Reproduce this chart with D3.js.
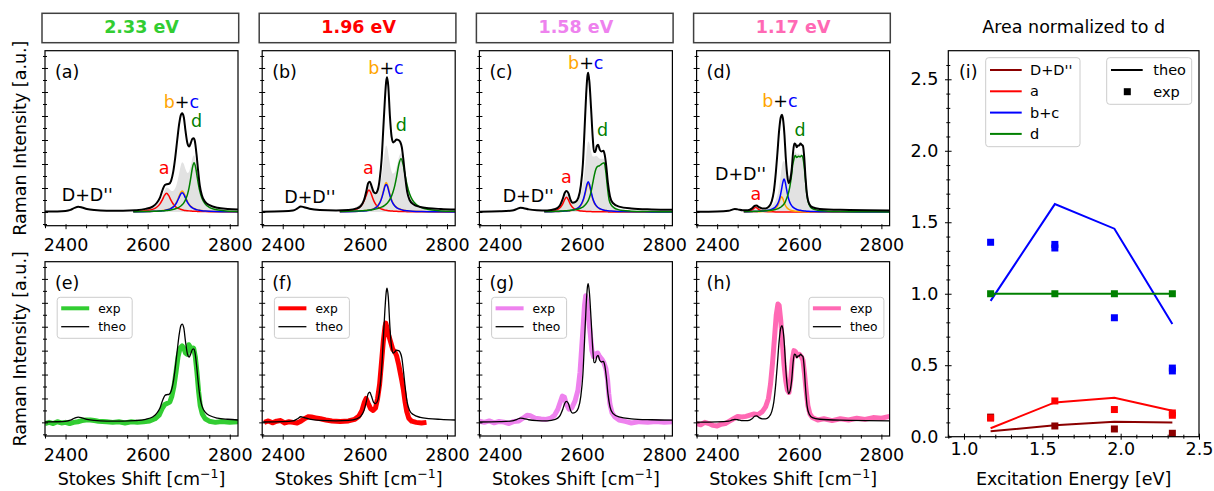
<!DOCTYPE html>
<html><head><meta charset="utf-8">
<script src="https://cdn.jsdelivr.net/npm/d3@7"></script>
<style>body{margin:0;background:#fff;} svg{display:block;}</style>
</head><body><svg id="chart" width="1214" height="491"></svg>
<script>
// ================= DATA =================
const energyLabels = ["2.33 eV", "1.96 eV", "1.58 eV", "1.17 eV"];
const topPanelTags = ["(a)", "(b)", "(c)", "(d)"];
const bottomPanelTags = ["(e)", "(f)", "(g)", "(h)"];
const shiftTicks = [2400, 2600, 2800];
const energyTicks = [1.0, 1.5, 2.0, 2.5];
const areaTicks = [0.0, 0.5, 1.0, 1.5, 2.0, 2.5];
const peakNames = ["D+D''", "a", "b+c", "d"];
const legendSpectra = ["exp", "theo"];

// ---- 2.33 eV components (x grid + a, b, c, d) ----
const grid233 = [2565,2590,2605,2615,2622,2630,2636,2641,2646,2651,2656,2661,2666,2671,2676,2680,2684,2688,2692,2697,2701,2705,2709,2713,2717,2721,2726,2732,2740,2750,2765,2785,2820];
const compA233 = [0.0045,0.009,0.016,0.026,0.040,0.068,0.103,0.138,0.156,0.138,0.103,0.073,0.051,0.037,0.028,0.0226,0.0186,0.0156,0.0132,0.011,0.0095,0.0083,0.0073,0.0065,0.0058,0.0053,0.0046,0.004,0.0034,0.0028,0.0021,0.0016,0.001];
const compB233 = [0.002,0.0033,0.0046,0.006,0.0074,0.0096,0.012,0.0147,0.0184,0.0235,0.031,0.0424,0.06,0.0875,0.127,0.16,0.175,0.16,0.127,0.0875,0.0646,0.0485,0.0373,0.0292,0.0235,0.0192,0.0153,0.012,0.0089,0.0065,0.0043,0.0028,0.0016];
const compC233 = [0.0019,0.003,0.0042,0.0055,0.0068,0.0088,0.011,0.0135,0.0169,0.0216,0.0285,0.039,0.055,0.0805,0.117,0.147,0.161,0.147,0.117,0.0805,0.0594,0.0446,0.0343,0.0269,0.0216,0.0177,0.0141,0.011,0.0082,0.006,0.004,0.0026,0.0015];
const compD233 = [0.0027,0.0039,0.005,0.0061,0.007,0.0084,0.0097,0.0111,0.0127,0.0148,0.0174,0.0207,0.0251,0.0309,0.039,0.0479,0.06,0.0768,0.101,0.147,0.205,0.284,0.369,0.41,0.369,0.284,0.189,0.117,0.0677,0.039,0.0207,0.0111,0.0051];
const total233 = [[2350,0.004],[2380,0.005],[2400,0.009],[2412,0.018],[2422,0.035],[2431,0.044],[2440,0.038],[2452,0.025],[2470,0.016],[2500,0.011],[2540,0.011],[2570,0.015],[2595,0.026],[2612,0.045],[2622,0.075],[2630,0.12],[2637,0.19],[2642,0.225],[2647,0.232],[2652,0.235],[2657,0.26],[2662,0.33],[2667,0.45],[2672,0.6],[2677,0.74],[2681,0.81],[2684,0.822],[2688,0.79],[2692,0.68],[2697,0.57],[2701,0.545],[2705,0.575],[2709,0.61],[2712,0.614],[2715,0.59],[2719,0.48],[2723,0.34],[2727,0.22],[2732,0.14],[2740,0.085],[2752,0.055],[2770,0.036],[2795,0.026],[2820,0.02]];
const exp233 = [[2350,-0.01],[2360,0.0],[2370,-0.01],[2380,0.005],[2390,-0.005],[2400,0.0],[2410,-0.01],[2420,0.0],[2430,0.005],[2440,0.015],[2450,0.02],[2460,0.02],[2470,0.015],[2480,0.01],[2490,0.008],[2500,0.005],[2515,0.0],[2530,0.005],[2545,-0.005],[2560,0.005],[2575,0.0],[2590,0.005],[2605,0.012],[2618,0.03],[2628,0.06],[2636,0.12],[2642,0.15],[2648,0.16],[2654,0.17],[2659,0.22],[2664,0.3],[2669,0.42],[2674,0.55],[2679,0.62],[2684,0.64],[2688,0.62],[2692,0.58],[2696,0.57],[2700,0.65],[2704,0.63],[2708,0.6],[2712,0.62],[2716,0.55],[2720,0.42],[2724,0.26],[2728,0.14],[2733,0.07],[2740,0.03],[2750,0.01],[2765,0.0],[2780,0.008],[2800,0.0],[2820,0.005]];

// ---- 1.96 eV ----
const grid196 = [2539,2560,2575,2585,2592,2598,2603,2607,2610,2614,2618,2623,2628,2633,2638,2642,2646,2649,2652,2655,2659,2663,2668,2673,2678,2683,2688,2693,2698,2703,2709,2716,2725,2738,2755,2780,2820];
const compA196 = [0.0051,0.0099,0.0193,0.0343,0.0563,0.0915,0.1366,0.172,0.183,0.1647,0.1267,0.0843,0.0563,0.0392,0.0284,0.0226,0.0183,0.0158,0.0138,0.0122,0.0103,0.0089,0.0075,0.0064,0.0055,0.0048,0.0042,0.0037,0.0033,0.003,0.0026,0.0023,0.002,0.0016,0.0012,0.0009,0.0006];
const compB196 = [0.0023,0.0034,0.0049,0.0064,0.008,0.0098,0.0117,0.0138,0.0157,0.019,0.0232,0.0308,0.0426,0.0616,0.0935,0.134,0.189,0.228,0.245,0.228,0.175,0.1225,0.0785,0.0528,0.0372,0.0274,0.021,0.0164,0.0132,0.0109,0.0088,0.007,0.0054,0.0039,0.0028,0.0018,0.0011];
const compC196 = [0.0022,0.0032,0.0046,0.006,0.0075,0.0092,0.011,0.013,0.0147,0.0178,0.0218,0.0289,0.04,0.0578,0.0878,0.126,0.177,0.214,0.23,0.214,0.164,0.115,0.0737,0.0496,0.0349,0.0257,0.0197,0.0154,0.0124,0.0102,0.0083,0.0066,0.0051,0.0037,0.0026,0.0017,0.001];
const compD196 = [0.0045,0.006,0.0077,0.0092,0.0106,0.012,0.0134,0.0147,0.0159,0.0175,0.0195,0.0224,0.0261,0.0308,0.0367,0.0427,0.0502,0.0572,0.0657,0.076,0.0937,0.1175,0.16,0.222,0.307,0.4,0.444,0.4,0.307,0.222,0.15,0.099,0.0627,0.0367,0.0212,0.0115,0.0057];
const total196 = [[2350,0.003],[2400,0.006],[2425,0.012],[2436,0.03],[2444,0.047],[2452,0.04],[2465,0.028],[2490,0.017],[2530,0.013],[2560,0.017],[2580,0.03],[2590,0.05],[2598,0.1],[2604,0.18],[2608,0.24],[2612,0.253],[2616,0.22],[2621,0.17],[2626,0.156],[2631,0.18],[2636,0.27],[2641,0.45],[2645,0.7],[2649,0.95],[2652,1.09],[2654,1.122],[2657,1.05],[2661,0.8],[2665,0.63],[2669,0.58],[2673,0.59],[2677,0.605],[2682,0.6],[2686,0.585],[2690,0.54],[2694,0.43],[2698,0.3],[2703,0.17],[2709,0.1],[2718,0.065],[2735,0.042],[2755,0.032],[2785,0.025],[2820,0.02]];
const exp196 = [[2355,0.0],[2365,0.012],[2375,-0.004],[2385,0.01],[2395,0.015],[2405,-0.005],[2415,0.005],[2425,0.0],[2435,-0.006],[2445,0.012],[2455,0.035],[2463,0.048],[2470,0.045],[2480,0.038],[2492,0.03],[2505,0.02],[2520,0.012],[2540,0.008],[2560,0.012],[2575,0.025],[2585,0.05],[2593,0.1],[2599,0.17],[2603,0.2],[2608,0.16],[2614,0.115],[2620,0.1],[2626,0.12],[2631,0.2],[2636,0.32],[2641,0.52],[2645,0.68],[2649,0.8],[2651,0.83],[2654,0.79],[2658,0.73],[2663,0.67],[2668,0.61],[2673,0.59],[2677,0.56],[2682,0.49],[2686,0.42],[2690,0.35],[2694,0.27],[2698,0.17],[2702,0.09],[2707,0.035],[2714,0.01],[2725,0.0],[2738,-0.006],[2750,0.0]];

// ---- 1.58 eV ----
const grid158 = [2508,2525,2535,2542,2548,2553,2558,2562,2566,2571,2576,2582,2588,2594,2599,2604,2608,2612,2615,2618,2622,2626,2630,2634,2638,2642,2646,2650,2654,2658,2662,2666,2671,2678,2688,2700,2720,2750,2790,2820];
const compA158 = [0.004,0.0083,0.0147,0.0244,0.0412,0.0674,0.105,0.122,0.105,0.0674,0.0412,0.0244,0.0157,0.0109,0.0083,0.0065,0.0055,0.0047,0.0042,0.0038,0.0033,0.0029,0.0025,0.0023,0.002,0.0018,0.0017,0.0015,0.0014,0.0013,0.0012,0.0011,0.001,0.0009,0.0008,0.0006,0.0005,0.0003,0.0002,0.0002];
const compB158 = [0.002,0.0029,0.0036,0.0044,0.0051,0.0059,0.0071,0.0081,0.0094,0.0115,0.0145,0.0198,0.0283,0.0435,0.066,0.106,0.158,0.216,0.235,0.216,0.158,0.106,0.0723,0.051,0.0373,0.0283,0.0221,0.0177,0.0145,0.0121,0.0102,0.0087,0.0072,0.0058,0.0044,0.0033,0.0021,0.0013,0.0007,0.0006];
const compC158 = [0.0022,0.0031,0.0039,0.0047,0.0055,0.0064,0.0076,0.0087,0.0101,0.0124,0.0156,0.0213,0.0305,0.0468,0.0711,0.1145,0.17,0.232,0.253,0.232,0.17,0.1145,0.0778,0.0549,0.0402,0.0305,0.0238,0.0191,0.0156,0.013,0.011,0.0094,0.0078,0.0062,0.0047,0.0035,0.0023,0.0014,0.0008,0.0006];
const compD158 = [0.004,0.005,0.006,0.007,0.008,0.009,0.010,0.011,0.012,0.014,0.016,0.019,0.023,0.029,0.036,0.047,0.06,0.078,0.095,0.12,0.17,0.24,0.31,0.36,0.38,0.385,0.395,0.405,0.41,0.33,0.2,0.1,0.06,0.035,0.02,0.012,0.007,0.004,0.003,0.002];
const total158 = [[2350,0.003],[2400,0.006],[2430,0.012],[2442,0.026],[2450,0.036],[2458,0.032],[2470,0.022],[2490,0.015],[2515,0.013],[2535,0.025],[2545,0.05],[2553,0.11],[2558,0.16],[2562,0.175],[2567,0.155],[2572,0.1],[2577,0.078],[2584,0.085],[2591,0.12],[2597,0.22],[2602,0.4],[2606,0.68],[2610,0.98],[2613,1.13],[2615,1.16],[2618,1.08],[2622,0.86],[2626,0.62],[2629,0.5],[2632,0.5],[2636,0.55],[2639,0.56],[2643,0.52],[2647,0.505],[2652,0.51],[2655,0.48],[2659,0.38],[2663,0.24],[2668,0.13],[2675,0.075],[2690,0.045],[2720,0.03],[2770,0.022],[2820,0.018]];
const exp158 = [[2350,0.01],[2362,0.0],[2374,0.012],[2386,-0.004],[2398,0.008],[2410,0.002],[2422,-0.01],[2434,0.008],[2446,0.012],[2456,0.035],[2466,0.06],[2474,0.055],[2486,0.035],[2500,0.028],[2512,0.025],[2524,0.035],[2533,0.06],[2541,0.11],[2547,0.17],[2552,0.22],[2557,0.21],[2562,0.15],[2568,0.11],[2575,0.12],[2583,0.18],[2590,0.27],[2595,0.42],[2599,0.62],[2603,0.82],[2606,0.98],[2609,1.06],[2612,1.0],[2616,0.86],[2620,0.74],[2624,0.6],[2628,0.55],[2633,0.57],[2638,0.58],[2643,0.55],[2648,0.53],[2653,0.5],[2658,0.45],[2662,0.36],[2665,0.24],[2668,0.15],[2673,0.08],[2680,0.045],[2690,0.02],[2705,0.008],[2720,-0.005],[2740,0.006],[2760,0.0],[2780,0.008],[2800,0.0],[2820,0.006]];

// ---- 1.17 eV ----
const grid117 = [2465,2478,2486,2490,2494,2498,2503,2512,2525,2535,2542,2547,2551,2554,2557,2560,2563,2566,2569,2573,2577,2581,2584,2587,2590,2594,2598,2602,2606,2609,2612,2615,2618,2622,2628,2636,2650,2670,2700,2750,2820];
const compA117 = [0.0028,0.0078,0.0195,0.031,0.039,0.031,0.0172,0.0064,0.0024,0.0014,0.0011,0.0009,0.0008,0.0007,0.0007,0.0006,0.0006,0.0006,0.0005,0.0005,0.0005,0.0004,0.0004,0.0004,0.0004,0.0003,0.0003,0.0003,0.0003,0.0003,0.0003,0.0003,0.0002,0.0002,0.0002,0.0002,0.0002,0.0001,0.0001,0.0001,0.0001];
const compB117 = [0.001,0.0013,0.0016,0.0018,0.002,0.0023,0.0027,0.0039,0.0075,0.015,0.0283,0.05,0.0819,0.112,0.128,0.112,0.0819,0.0564,0.0394,0.0256,0.0177,0.0128,0.0103,0.0085,0.0071,0.0057,0.0047,0.0039,0.0033,0.003,0.0027,0.0024,0.0022,0.0019,0.0016,0.0013,0.0009,0.0006,0.0004,0.0002,0.0001];
const compC117 = [0.0023,0.003,0.0037,0.0041,0.0046,0.0052,0.0061,0.0083,0.0146,0.0257,0.0427,0.0661,0.0989,0.1375,0.19,0.2475,0.275,0.2475,0.19,0.123,0.0804,0.055,0.0427,0.034,0.0275,0.0214,0.0171,0.0139,0.0116,0.0101,0.009,0.008,0.0072,0.0063,0.0052,0.0041,0.0029,0.0019,0.0012,0.0006,0.0003];
const compD117 = [0.004,0.005,0.005,0.006,0.006,0.007,0.007,0.009,0.012,0.016,0.021,0.026,0.032,0.038,0.046,0.056,0.068,0.085,0.11,0.15,0.21,0.3,0.39,0.44,0.47,0.455,0.465,0.46,0.47,0.45,0.38,0.27,0.16,0.08,0.038,0.022,0.012,0.007,0.004,0.002,0.001];
const total117 = [[2350,0.002],[2400,0.004],[2428,0.01],[2437,0.02],[2443,0.025],[2450,0.022],[2462,0.014],[2475,0.015],[2485,0.03],[2492,0.053],[2496,0.054],[2502,0.04],[2510,0.03],[2518,0.03],[2526,0.045],[2533,0.09],[2538,0.17],[2543,0.33],[2547,0.5],[2551,0.68],[2555,0.79],[2558,0.81],[2561,0.76],[2564,0.64],[2567,0.46],[2570,0.33],[2574,0.24],[2578,0.27],[2582,0.37],[2585,0.5],[2588,0.57],[2591,0.565],[2594,0.54],[2597,0.555],[2600,0.555],[2603,0.57],[2606,0.56],[2609,0.55],[2612,0.46],[2615,0.3],[2619,0.14],[2624,0.07],[2632,0.04],[2650,0.026],[2700,0.018],[2820,0.013]];
const exp117 = [[2350,-0.01],[2360,-0.02],[2370,0.0],[2380,-0.01],[2390,-0.025],[2400,-0.03],[2410,-0.015],[2420,-0.01],[2430,0.01],[2440,0.03],[2450,0.05],[2460,0.045],[2470,0.05],[2480,0.06],[2490,0.07],[2500,0.065],[2510,0.09],[2518,0.13],[2525,0.2],[2530,0.32],[2535,0.5],[2540,0.72],[2544,0.9],[2548,0.99],[2551,0.98],[2555,0.85],[2559,0.66],[2563,0.48],[2567,0.35],[2571,0.27],[2575,0.25],[2579,0.35],[2583,0.52],[2587,0.6],[2591,0.59],[2595,0.56],[2600,0.57],[2605,0.55],[2609,0.52],[2613,0.4],[2617,0.26],[2621,0.14],[2626,0.07],[2632,0.04],[2645,0.02],[2660,0.03],[2680,0.015],[2700,0.03],[2720,0.02],[2740,0.035],[2760,0.025],[2780,0.04],[2800,0.035],[2820,0.05]];

// ---- Panel (i): area normalized to d ----
const excitation = [1.17, 1.58, 1.96, 2.33];
const theoDD = [0.038, 0.08, 0.105, 0.10];
const theoA  = [0.059, 0.24, 0.273, 0.182];
const theoBC = [0.95, 1.627, 1.455, 0.788];
const theoD  = [1.0, 1.0, 1.0, 1.0];
const expDD = [[1.17,0.137],[1.58,0.075],[1.96,0.054],[2.33,0.024]];
const expA  = [[1.17,0.13],[1.58,0.25],[1.96,0.19],[2.33,0.15],[2.33,0.166]];
const expBC = [[1.17,1.36],[1.58,1.32],[1.58,1.345],[1.96,0.832],[2.33,0.46],[2.33,0.48]];
const expD  = [[1.17,1.0],[1.58,1.0],[1.96,1.0],[2.33,1.0]];

// ================= DRAWING =================
const FONT = "'DejaVu Sans', sans-serif";
const FS = 17.5;
const svg = d3.select("#chart").attr("font-family", FONT);
const energyColors = ["#32CD32", "#FF0000", "#EE82EE", "#FF69B4"];
const compColors = ["#FF0000", "#FFA500", "#0000FF", "#008000"];

const spectra = [
  {grid: grid233, comps: [compA233, compB233, compC233, compD233], total: total233, exp: exp233},
  {grid: grid196, comps: [compA196, compB196, compC196, compD196], total: total196, exp: exp196},
  {grid: grid158, comps: [compA158, compB158, compC158, compD158], total: total158, exp: exp158},
  {grid: grid117, comps: [compA117, compB117, compC117, compD117], total: total117, exp: exp117}
];
// annotation anchor points (data coords) for peak labels
const annot = [
  {dd:[2453,0.092], a:[2640,0.317], bc:[2682,0.867], d:[2719,0.708]},
  {dd:[2466,0.078], a:[2608.6,0.317], bc:[2651.5,1.15], d:[2689,0.678]},
  {dd:[2469,0.081], a:[2562,0.239], bc:[2609,1.19], d:[2650,0.636]},
  {dd:[2457,0.27], a:[2494.5,0.1], bc:[2552.8,0.872], d:[2602,0.633]}
];

const panelW = 193;
const panelLeft = i => 45 + i * 217.2;
const rows = [{top: 50.7, bot: 225.7}, {top: 261.7, bot: 436}];
const xDomain = [2350, 2820], yDomain = [-0.114, 1.344];
const xMinor = d3.range(2350, 2801, 50).filter(v => v % 200 !== 0);
const yMajor = d3.range(0, 7).map(k => +(k * 0.2).toFixed(2));
const yMinor = d3.range(-1, 14, 2).map(k => +(k * 0.1).toFixed(2));

function cleanAxis(g) {
  g.select(".domain").remove();
  g.attr("font-family", FONT).attr("font-size", FS);
  g.selectAll(".tick line").attr("stroke", "#000").attr("stroke-width", 1);
  g.selectAll(".tick text").attr("fill", "#000");
}

function spectraFrame(g, xs, ys, row, idx) {
  const xa = g.append("g").attr("transform", `translate(0,${row.bot})`)
    .call(d3.axisBottom(xs).tickValues(shiftTicks).tickSize(3.5).tickPadding(9).tickFormat(d3.format("d")));
  cleanAxis(xa); xa.selectAll(".tick line").attr("y1", -1.5);
  const xm = g.append("g").attr("transform", `translate(0,${row.bot})`)
    .call(d3.axisBottom(xs).tickValues(xMinor).tickSize(2.5).tickFormat(""));
  cleanAxis(xm); xm.selectAll(".tick line").attr("y1", -1);
  const x0 = xs.range()[0];
  const ya = g.append("g").attr("transform", `translate(${x0},0)`)
    .call(d3.axisLeft(ys).tickValues(yMajor).tickSize(3).tickFormat(""));
  cleanAxis(ya); ya.selectAll(".tick line").attr("x1", 3);
  const ym = g.append("g").attr("transform", `translate(${x0},0)`)
    .call(d3.axisLeft(ys).tickValues(yMinor).tickSize(2).tickFormat(""));
  cleanAxis(ym); ym.selectAll(".tick line").attr("x1", 2);
  g.append("rect").attr("x", x0).attr("y", row.top).attr("width", panelW).attr("height", row.bot - row.top)
    .attr("fill", "none").attr("stroke", "#000").attr("stroke-width", 1.2);
}

spectra.forEach((sp, i) => {
  const L = panelLeft(i);
  const xs = d3.scaleLinear().domain(xDomain).range([L, L + panelW]);
  const ysT = d3.scaleLinear().domain(yDomain).range([rows[0].bot, rows[0].top]);
  const ysB = d3.scaleLinear().domain(yDomain).range([rows[1].bot, rows[1].top]);

  // title box
  svg.append("rect").attr("x", L - 3).attr("y", 13.3).attr("width", panelW + 3.7).attr("height", 29.4)
    .attr("fill", "#fff").attr("stroke", "#404040").attr("stroke-width", 1.5);
  svg.append("text").attr("x", L + panelW / 2).attr("y", 33.3).attr("text-anchor", "middle")
    .attr("font-weight", "bold").attr("font-size", FS).attr("fill", energyColors[i]).text(energyLabels[i]);

  // ---- top panel ----
  const gT = svg.append("g");
  const clipT = "clipT" + i;
  svg.append("clipPath").attr("id", clipT).append("rect").attr("x", L).attr("y", rows[0].top).attr("width", panelW).attr("height", rows[0].bot - rows[0].top);
  const plotT = gT.append("g").attr("clip-path", `url(#${clipT})`);
  const sum = sp.grid.map((x, k) => [x, sp.comps[0][k] + sp.comps[1][k] + sp.comps[2][k] + sp.comps[3][k]]);
  plotT.append("path").datum(sum)
    .attr("d", d3.area().x(d => xs(d[0])).y0(ysT(0)).y1(d => ysT(d[1])).curve(d3.curveMonotoneX))
    .attr("fill", "#e2e2e2").attr("stroke", "none");
  sp.comps.forEach((c, ci) => {
    plotT.append("path").datum(sp.grid.map((x, k) => [x, c[k]]))
      .attr("d", d3.line().x(d => xs(d[0])).y(d => ysT(d[1])).curve(d3.curveMonotoneX))
      .attr("fill", "none").attr("stroke", compColors[ci]).attr("stroke-width", 1.5);
  });
  plotT.append("path").datum(sp.total)
    .attr("d", d3.line().x(d => xs(d[0])).y(d => ysT(d[1])).curve(d3.curveMonotoneX))
    .attr("fill", "none").attr("stroke", "#000").attr("stroke-width", 2);
  spectraFrame(gT, xs, ysT, rows[0], i);
  gT.append("text").attr("x", L + 10).attr("y", 77.5).attr("font-size", FS).text(topPanelTags[i]);
  const an = annot[i];
  gT.append("text").attr("x", xs(an.dd[0])).attr("y", ysT(an.dd[1])).attr("text-anchor", "middle").attr("font-size", FS).text(peakNames[0]);
  gT.append("text").attr("x", xs(an.a[0])).attr("y", ysT(an.a[1])).attr("text-anchor", "middle").attr("font-size", FS).attr("fill", "#FF0000").text(peakNames[1]);
  const bc = gT.append("text").attr("x", xs(an.bc[0])).attr("y", ysT(an.bc[1])).attr("text-anchor", "middle").attr("font-size", FS);
  bc.append("tspan").attr("fill", "#FFA500").text("b");
  bc.append("tspan").attr("fill", "#000").text("+");
  bc.append("tspan").attr("fill", "#0000FF").text("c");
  gT.append("text").attr("x", xs(an.d[0])).attr("y", ysT(an.d[1])).attr("text-anchor", "middle").attr("font-size", FS).attr("fill", "#008000").text(peakNames[3]);

  // ---- bottom panel ----
  const gB = svg.append("g");
  const clipB = "clipB" + i;
  svg.append("clipPath").attr("id", clipB).append("rect").attr("x", L).attr("y", rows[1].top).attr("width", panelW).attr("height", rows[1].bot - rows[1].top);
  const plotB = gB.append("g").attr("clip-path", `url(#${clipB})`);
  plotB.append("path").datum(sp.exp)
    .attr("d", d3.line().x(d => xs(d[0])).y(d => ysB(d[1])))
    .attr("fill", "none").attr("stroke", energyColors[i]).attr("stroke-width", 5).attr("stroke-linejoin", "round");
  plotB.append("path").datum(sp.total)
    .attr("d", d3.line().x(d => xs(d[0])).y(d => ysB(d[1])).curve(d3.curveMonotoneX))
    .attr("fill", "none").attr("stroke", "#000").attr("stroke-width", 1.3);
  spectraFrame(gB, xs, ysB, rows[1], i);
  gB.append("text").attr("x", L + 10).attr("y", 288.5).attr("font-size", FS).text(bottomPanelTags[i]);
  // legend
  const lx = i === 3 ? L + panelW - 5.7 - 75 : L + 12.2;
  const lg = gB.append("g").attr("transform", `translate(${lx},297.3)`);
  lg.append("rect").attr("width", 75).attr("height", 41).attr("rx", 3)
    .attr("fill", "#fff").attr("fill-opacity", 0.8).attr("stroke", "#cccccc").attr("stroke-width", 1);
  lg.append("line").attr("x1", 4).attr("x2", 32).attr("y1", 11).attr("y2", 11).attr("stroke", energyColors[i]).attr("stroke-width", 4);
  lg.append("line").attr("x1", 4).attr("x2", 32).attr("y1", 29.4).attr("y2", 29.4).attr("stroke", "#000").attr("stroke-width", 1.3);
  lg.append("text").attr("x", 41).attr("y", 11).attr("dy", "0.35em").attr("font-size", 12.3).text(legendSpectra[0]);
  lg.append("text").attr("x", 41).attr("y", 29.4).attr("dy", "0.35em").attr("font-size", 12.3).text(legendSpectra[1]);

  if (i === 0) {
    svg.append("text").attr("transform", `translate(25.5,${(rows[0].top + rows[0].bot) / 2}) rotate(-90)`)
      .attr("text-anchor", "middle").attr("font-size", FS).text("Raman Intensity [a.u.]");
    svg.append("text").attr("transform", `translate(25.5,${(rows[1].top + rows[1].bot) / 2}) rotate(-90)`)
      .attr("text-anchor", "middle").attr("font-size", FS).text("Raman Intensity [a.u.]");
  }
  const xl = svg.append("text").attr("x", L + panelW / 2).attr("y", 484.5).attr("text-anchor", "middle").attr("font-size", FS);
  xl.append("tspan").text("Stokes Shift [cm");
  xl.append("tspan").attr("dy", -7).attr("font-size", 12.5).text("\u22121");
  xl.append("tspan").attr("dy", 7).text("]");
});

// ---- panel (i) ----
const iL = 948.3, iR = 1199, iT = 50.7, iB = 436.7;
const xI = d3.scaleLinear().domain([0.9, 2.5]).range([iL, iR]);
const yI = d3.scaleLinear().domain([0, 2.7]).range([iB, iT]);
const gI = svg.append("g");
const ax1 = gI.append("g").attr("transform", `translate(0,${iB})`)
  .call(d3.axisBottom(xI).tickValues(energyTicks).tickSize(3).tickPadding(2.5).tickFormat(d3.format(".1f")));
cleanAxis(ax1); ax1.selectAll(".tick line").attr("y1", -3);
const ax1m = gI.append("g").attr("transform", `translate(0,${iB})`)
  .call(d3.axisBottom(xI).tickValues(d3.range(9, 25).map(k => k / 10).filter(v => Math.abs(v * 2 - Math.round(v * 2)) > 1e-6)).tickSize(2).tickFormat(""));
cleanAxis(ax1m); ax1m.selectAll(".tick line").attr("y1", -2);
const ay1 = gI.append("g").attr("transform", `translate(${iL},0)`)
  .call(d3.axisLeft(yI).tickValues(areaTicks).tickSize(3.3).tickPadding(6.7).tickFormat(d3.format(".1f")));
cleanAxis(ay1); ay1.selectAll(".tick line").attr("x1", 3.3);
const ay1m = gI.append("g").attr("transform", `translate(${iL},0)`)
  .call(d3.axisLeft(yI).tickValues(d3.range(1, 27).map(k => k / 10).filter(v => Math.abs(v * 2 - Math.round(v * 2)) > 1e-6)).tickSize(2).tickFormat(""));
cleanAxis(ay1m); ay1m.selectAll(".tick line").attr("x1", 2);

const seriesI = [
  {theo: theoDD, exp: expDD, color: "#8B0000"},
  {theo: theoA, exp: expA, color: "#FF0000"},
  {theo: theoBC, exp: expBC, color: "#0000FF"},
  {theo: theoD, exp: expD, color: "#008000"}
];
const plotI = gI.append("g");
seriesI.forEach(s => {
  plotI.append("path").datum(excitation.map((e, k) => [e, s.theo[k]]))
    .attr("d", d3.line().x(d => xI(d[0])).y(d => yI(d[1])))
    .attr("fill", "none").attr("stroke", s.color).attr("stroke-width", 2);
});
seriesI.forEach(s => {
  plotI.selectAll(null).data(s.exp).enter().append("rect")
    .attr("x", d => xI(d[0]) - 3.5).attr("y", d => yI(d[1]) - 3.5).attr("width", 7).attr("height", 7)
    .attr("fill", s.color);
});
gI.append("rect").attr("x", iL).attr("y", iT).attr("width", iR - iL).attr("height", iB - iT)
  .attr("fill", "none").attr("stroke", "#000").attr("stroke-width", 1.2);
gI.append("text").attr("x", 959).attr("y", 78).attr("font-size", FS).text("(i)");
gI.append("text").attr("x", (iL + iR) / 2).attr("y", 33).attr("text-anchor", "middle").attr("font-size", FS).text("Area normalized to d");
gI.append("text").attr("x", (iL + iR) / 2).attr("y", 484.5).attr("text-anchor", "middle").attr("font-size", FS).text("Excitation Energy [eV]");

// legends in (i)
const lg1 = gI.append("g").attr("transform", "translate(985.7,57.7)");
lg1.append("rect").attr("width", 94.3).attr("height", 89).attr("rx", 3)
  .attr("fill", "#fff").attr("fill-opacity", 0.8).attr("stroke", "#cccccc");
seriesI.forEach((s, k) => {
  const yy = 12.3 + k * 21.3;
  lg1.append("line").attr("x1", 4.3).attr("x2", 36).attr("y1", yy).attr("y2", yy).attr("stroke", s.color).attr("stroke-width", 2);
  lg1.append("text").attr("x", 44.3).attr("y", yy).attr("dy", "0.35em").attr("font-size", 14.5).text(peakNames[k]);
});
const lg2 = gI.append("g").attr("transform", "translate(1106.7,57.7)");
lg2.append("rect").attr("width", 85).attr("height", 46.6).attr("rx", 3)
  .attr("fill", "#fff").attr("fill-opacity", 0.8).attr("stroke", "#cccccc");
lg2.append("line").attr("x1", 4.3).attr("x2", 36).attr("y1", 12.3).attr("y2", 12.3).attr("stroke", "#000").attr("stroke-width", 2);
lg2.append("rect").attr("x", 20.6 - 3.5).attr("y", 34 - 3.5).attr("width", 7).attr("height", 7).attr("fill", "#000");
lg2.append("text").attr("x", 46.6).attr("y", 12.3).attr("dy", "0.35em").attr("font-size", 14.5).text("theo");
lg2.append("text").attr("x", 46.6).attr("y", 34).attr("dy", "0.35em").attr("font-size", 14.5).text("exp");
</script></body></html>
